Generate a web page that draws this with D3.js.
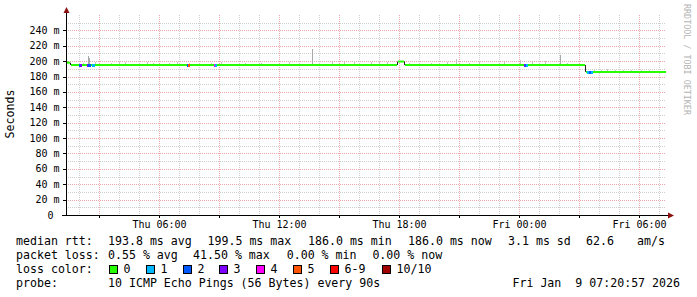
<!DOCTYPE html>
<html>
<head>
<meta charset="utf-8">
<script src="https://cdn.jsdelivr.net/npm/d3@7"></script>
<style>
  body { margin: 0; background: #fff; }
  svg { display: block; }
  text { font-family: "DejaVu Sans Mono", monospace; }
</style>
</head>
<body>
<div id="chart"></div>
<script>
// ---- data ----
var windowStart = "2026-01-08 01:19:30";
var windowEnd = "2026-01-09 07:19:30";

var yTickValues = [0, 20, 40, 60, 80, 100, 120, 140, 160, 180, 200, 220, 240];

// median rtt (ms), step changes
var medianTimes = ["2026-01-08 01:19:30", "2026-01-08 01:31:30", "2026-01-08 17:52:30",
                   "2026-01-08 18:13:30", "2026-01-09 03:16:30"];
var medianValues = [198, 195, 199.5, 195, 186];

// steps that had packet loss (index into lossColors)
var lossTimes = ["2026-01-08 02:01", "2026-01-08 02:04", "2026-01-08 02:25", "2026-01-08 02:28",
                 "2026-01-08 02:31", "2026-01-08 02:40", "2026-01-08 02:43", "2026-01-08 07:25",
                 "2026-01-08 07:28", "2026-01-08 08:46", "2026-01-08 08:49", "2026-01-09 00:16",
                 "2026-01-09 00:19", "2026-01-09 00:22", "2026-01-09 03:25", "2026-01-09 03:31",
                 "2026-01-09 03:37"];
var lossLevels = [2, 3, 3, 2, 2, 1, 1, 2, 5, 4, 1, 3, 2, 1, 1, 2, 1];

// smoke (slowest ping of the step, ms)
var smokeTimes = ["2026-01-08 01:25", "2026-01-08 02:13", "2026-01-08 02:28", "2026-01-08 02:31",
                  "2026-01-08 02:49", "2026-01-08 03:37", "2026-01-08 04:01", "2026-01-08 04:19",
                  "2026-01-08 05:25", "2026-01-08 05:43", "2026-01-08 06:31", "2026-01-08 06:55",
                  "2026-01-08 07:31", "2026-01-08 08:37", "2026-01-08 09:07", "2026-01-08 10:19",
                  "2026-01-08 11:07", "2026-01-08 12:31", "2026-01-08 13:40", "2026-01-08 14:40",
                  "2026-01-08 15:16", "2026-01-08 15:46", "2026-01-08 16:37", "2026-01-08 17:01",
                  "2026-01-08 17:25", "2026-01-08 18:31", "2026-01-08 19:37", "2026-01-08 20:25",
                  "2026-01-08 20:52", "2026-01-08 21:31", "2026-01-08 22:01", "2026-01-08 23:01",
                  "2026-01-08 23:16", "2026-01-09 00:04", "2026-01-09 00:40", "2026-01-09 01:19",
                  "2026-01-09 02:04", "2026-01-09 02:25", "2026-01-09 03:46", "2026-01-09 04:07",
                  "2026-01-09 04:25", "2026-01-09 04:49", "2026-01-09 05:13", "2026-01-09 05:37",
                  "2026-01-09 06:07", "2026-01-09 06:31"];
var smokeValues = [200, 198, 207, 204, 199, 198, 199, 199, 199, 198, 198, 199, 198, 198, 199, 198,
                   198, 199, 216, 199, 199, 200, 199, 199, 199, 198, 198, 199, 203, 198, 199, 198,
                   199, 201, 199, 200, 208, 198, 190, 189, 190, 189, 189, 189, 189, 188];

var lossNames = ["0", "1", "2", "3", "4", "5", "6-9", "10/10"];
var lossColors = ["#26ff00", "#00b8ff", "#0059ff", "#7e00ff", "#ff00ff", "#ff5500", "#ff0000", "#a10000"];

var rttLine = ["193.8 ms avg", "199.5 ms max", "186.0 ms min", "186.0 ms now", "3.1 ms sd", "62.6", "am/s"];
var lossLine = ["0.55 % avg", "41.50 % max", "0.00 % min", "0.00 % now"];
var probeText = "10 ICMP Echo Pings (56 Bytes) every 90s";
var stampText = "Fri Jan  9 07:20:57 2026";

// ---- layout ----
var W = 697, H = 297;
var plot = { left: 66, right: 666, top: 15, bottom: 215 };

var parse = d3.timeParse("%Y-%m-%d %H:%M:%S");
var parseM = d3.timeParse("%Y-%m-%d %H:%M");
function toDate(s) { return parse(s) || parseM(s); }
function keepSpaces(s) { return s.replace(/ /g, "\u00a0"); }

var svg = d3.select("#chart").append("svg")
    .attr("width", W)
    .attr("height", H);

svg.append("rect").attr("width", W).attr("height", H).attr("fill", "#fff");

var x = d3.scaleTime()
    .domain([toDate(windowStart), toDate(windowEnd)])
    .range([plot.left, plot.right]);

var y = d3.scaleLinear()
    .domain([0, 260])
    .range([plot.bottom, plot.top]);

function px(d) { return Math.floor(x(d)) + 0.5; }
function py(v) { return Math.round(y(v)) + 0.5; }

// grid
var grid = svg.append("g");
var minorH = y.ticks(26).filter(function (v) { return v % 20 !== 0 && v < 260; });
grid.selectAll(".hmin").data(minorH).enter().append("line")
    .attr("x1", plot.left).attr("x2", plot.right)
    .attr("y1", py).attr("y2", py)
    .attr("stroke", "#cfcfcf").attr("stroke-dasharray", "1,1");

var hourTicks = x.ticks(d3.timeHour.every(1)).filter(function (d) { return d.getHours() % 3 !== 0; });
grid.selectAll(".vmin").data(hourTicks).enter().append("line")
    .attr("x1", px).attr("x2", px)
    .attr("y1", plot.top).attr("y2", plot.bottom)
    .attr("stroke", "#cfcfcf").attr("stroke-dasharray", "1,1");

grid.selectAll(".hmaj").data(yTickValues.filter(function (v) { return v > 0; })).enter().append("line")
    .attr("x1", plot.left).attr("x2", plot.right)
    .attr("y1", py).attr("y2", py)
    .attr("stroke", "#e8a8a8").attr("stroke-dasharray", "1,1");

var majorX = x.ticks(d3.timeHour.every(3));
grid.selectAll(".vmaj").data(majorX).enter().append("line")
    .attr("x1", px).attr("x2", px)
    .attr("y1", plot.top).attr("y2", plot.bottom)
    .attr("stroke", "#e8a8a8").attr("stroke-dasharray", "1,1");

// median lookup
var medTimes = medianTimes.map(toDate);
var bis = d3.bisector(function (d) { return d; }).right;
function medianAt(t) {
    var i = bis(medTimes, t) - 1;
    return medianValues[Math.max(0, i)];
}

// smoke
svg.append("g").selectAll("rect").data(smokeTimes).enter().append("rect")
    .attr("x", function (d) { return Math.floor(x(toDate(d))); })
    .attr("width", 1)
    .attr("y", function (d, i) { return Math.round(y(smokeValues[i])); })
    .attr("height", function (d, i) {
        return Math.max(1, Math.round(y(medianAt(toDate(d)))) - Math.round(y(smokeValues[i])));
    })
    .attr("fill", function (d, i) {
        return smokeValues[i] - medianAt(toDate(d)) > 8 ? "#a8a8a8" : "#c4c4c4";
    });

// median line: horizontal pieces green, step joins dark
var segs = medTimes.map(function (t, i) {
    return { t0: t, t1: i < medTimes.length - 1 ? medTimes[i + 1] : x.domain()[1], v: medianValues[i] };
});
var med = svg.append("g");
med.selectAll(".join").data(segs.slice(1)).enter().append("line")
    .attr("x1", function (d) { return Math.floor(x(d.t0)) + 0.5; })
    .attr("x2", function (d) { return Math.floor(x(d.t0)) + 0.5; })
    .attr("y1", function (d, i) { return y(segs[i].v); })
    .attr("y2", function (d) { return y(d.v); })
    .attr("stroke", "#222").attr("stroke-width", 1);
med.selectAll(".seg").data(segs).enter().append("line")
    .attr("x1", function (d, i) { return x(d.t0) + (i > 0 ? 1 : 0); })
    .attr("x2", function (d) { return x(d.t1); })
    .attr("y1", function (d) { return y(d.v); })
    .attr("y2", function (d) { return y(d.v); })
    .attr("stroke", lossColors[0]).attr("stroke-width", 2);

// loss coloured steps
med.selectAll(".loss").data(lossTimes).enter().append("rect")
    .attr("x", function (d) { return Math.floor(x(toDate(d))); })
    .attr("width", 2)
    .attr("y", function (d) { return Math.round(y(medianAt(toDate(d)))) - 1; })
    .attr("height", 3)
    .attr("fill", function (d, i) { return lossColors[lossLevels[i]]; });

// axes
var axis = svg.append("g");
axis.append("line")
    .attr("x1", plot.left + 0.5).attr("x2", plot.left + 0.5)
    .attr("y1", plot.bottom + 1).attr("y2", 12)
    .attr("stroke", "#000");
axis.append("line")
    .attr("x1", plot.left - 4).attr("x2", 669)
    .attr("y1", plot.bottom + 0.5).attr("y2", plot.bottom + 0.5)
    .attr("stroke", "#000");
axis.append("path")
    .attr("d", "M" + (plot.left - 2.5) + ",13 L" + (plot.left + 0.5) + ",7 L" + (plot.left + 3.5) + ",13 Z")
    .attr("fill", "#8b1010");
axis.append("path")
    .attr("d", "M668,212.5 L674,215.5 L668,218.5 Z")
    .attr("fill", "#8b1010");

// y ticks + labels
axis.selectAll(".yt").data(yTickValues).enter().append("line")
    .attr("x1", plot.left - 3).attr("x2", plot.left)
    .attr("y1", py).attr("y2", py)
    .attr("stroke", "#000");
axis.selectAll(".yl").data(yTickValues).enter().append("text")
    .attr("x", function (v) { return v === 0 ? 53.5 : 59.5; })
    .attr("y", function (v) { return y(v) + 3.5; })
    .attr("text-anchor", "end")
    .attr("font-size", "10px")
    .attr("fill", "#000")
    .text(function (v) { return v === 0 ? "0" : v + " m"; });

// x ticks + labels
axis.selectAll(".xt").data(majorX).enter().append("line")
    .attr("x1", px).attr("x2", px)
    .attr("y1", plot.bottom).attr("y2", plot.bottom + 3)
    .attr("stroke", "#000");
var fmt = d3.timeFormat("%a %H:%M");
axis.selectAll(".xl").data(x.ticks(d3.timeHour.every(6))).enter().append("text")
    .attr("x", function (d) { return x(d); })
    .attr("y", 228)
    .attr("text-anchor", "middle")
    .attr("font-size", "10px")
    .attr("fill", "#000")
    .text(fmt);

// axis title + watermark
svg.append("text")
    .attr("transform", "translate(14,114) rotate(-90)")
    .attr("text-anchor", "middle")
    .attr("font-size", "11.6px")
    .text("Seconds");
svg.append("text")
    .attr("transform", "translate(684,4) rotate(90)")
    .attr("font-size", "8.4px")
    .attr("fill", "#b4b4b4")
    .text("RRDTOOL / TOBI OETIKER");

// legend
var leg = svg.append("g").attr("font-size", "11.6px").attr("fill", "#000");
var rowY = [245, 259, 273, 287];
var rttX = [108, 207.5, 308, 408, 508, 586, 637];
var lossX = [108, 193, 286.7, 372.4];
var boxX = [108.7, 145.7, 182.7, 219.3, 256, 293.3, 330, 381.7];

leg.append("text").attr("x", 16).attr("y", rowY[0]).text("median rtt:");
rttLine.forEach(function (s, i) { leg.append("text").attr("x", rttX[i]).attr("y", rowY[0]).text(s); });

leg.append("text").attr("x", 16).attr("y", rowY[1]).text("packet loss:");
lossLine.forEach(function (s, i) { leg.append("text").attr("x", lossX[i]).attr("y", rowY[1]).text(s); });

leg.append("text").attr("x", 16).attr("y", rowY[2]).text("loss color:");
lossNames.forEach(function (s, i) {
    leg.append("rect")
        .attr("x", Math.round(boxX[i]) + 0.5).attr("y", 265.5)
        .attr("width", 8).attr("height", 8)
        .attr("fill", lossColors[i]).attr("stroke", "#000");
    leg.append("text").attr("x", Math.round(boxX[i]) + 14.5).attr("y", rowY[2]).text(s);
});

leg.append("text").attr("x", 16).attr("y", rowY[3]).text("probe:");
leg.append("text").attr("x", 108).attr("y", rowY[3]).text(probeText);
leg.append("text").attr("x", 680).attr("y", rowY[3]).attr("text-anchor", "end").text(keepSpaces(stampText));
</script>
</body>
</html>
